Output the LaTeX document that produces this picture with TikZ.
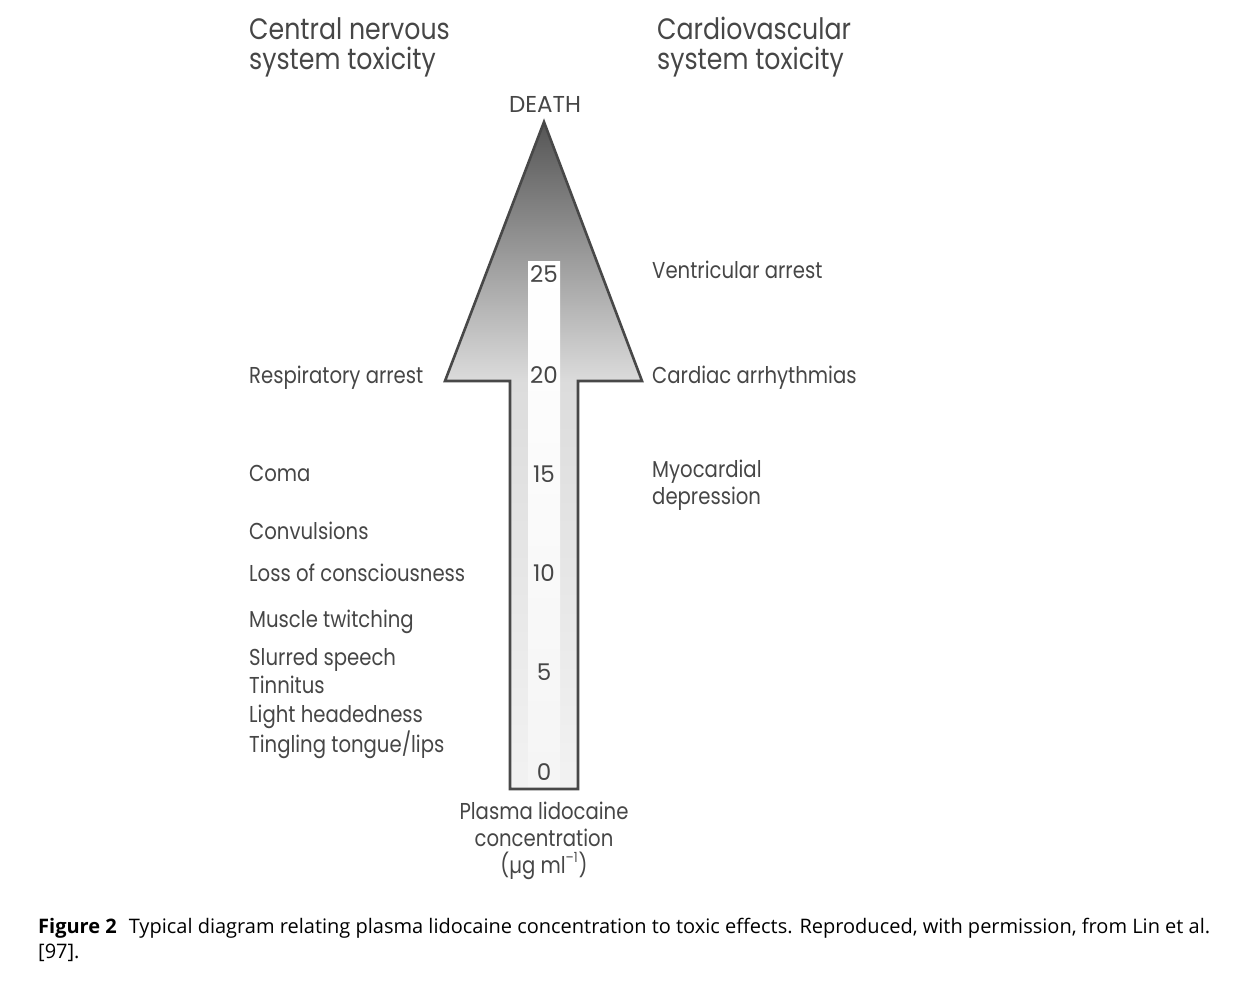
\documentclass[tikz,border=0pt]{standalone}
\usepackage{fontspec}
\setmainfont{Open Sans}
\newfontfamily\futfont[FakeStretch=0.855]{Poppins}
\newfontfamily\futwide{Poppins}
\usetikzlibrary{shadings}
\definecolor{txt}{HTML}{464646}
\definecolor{edge}{HTML}{484848}
\definecolor{g0}{HTML}{F2F2F2}
\definecolor{g1}{HTML}{DCDCDC}
\definecolor{g2}{HTML}{555555}
\pgfdeclareverticalshading{arrowshade}{100bp}{color(0bp)=(g0); color(25bp)=(g0); color(55.5bp)=(g1); color(75bp)=(g2); color(100bp)=(g2)}
\tikzset{
  lbl/.style={anchor=base west, inner sep=0pt, text=txt, font=\futfont\fontsize{23}{25}\selectfont},
  rlbl/.style={lbl, align=left, font=\futfont\fontsize{23}{27}\selectfont},
  title/.style={anchor=base west, inner sep=0pt, text=txt, align=left, font=\futfont\fontsize{29.5}{30.5}\selectfont},
  num/.style={anchor=base, inner sep=0pt, text=txt, font=\futwide\fontsize{23}{25}\selectfont},
  axislbl/.style={anchor=base, inner sep=0pt, text=txt, align=center, font=\futfont\fontsize{23}{27}\selectfont},
  caption/.style={anchor=base west, inner sep=0pt, text=black, align=left, font=\fontsize{20}{25}\selectfont},
}
\begin{document}
\begin{tikzpicture}[x=1pt,y=-1pt]
\useasboundingbox (0,0) rectangle (1240,1003);
% arrow
\coordinate (tip) at (544,122);
\shade[shading=arrowshade] (tip) -- (642,381) -- (578,381) -- (578,789) -- (510,789) -- (510,381) -- (445,381) -- cycle;
\shade[top color=white, bottom color=white!96!black] (528,262) rectangle (560,788);
\draw[edge, line width=2.6pt, line join=miter] (tip) -- (642,381) -- (578,381) -- (578,789) -- (510,789) -- (510,381) -- (445,381) -- cycle;
% titles
\node[title] (cns) at (249,70) {Central nervous\\system toxicity};
\node[title] (cvs) at (657,70) {Cardiovascular\\system toxicity};
\node[num] (death) at (545,113) {DEATH};
% numbers
\node[num] (n25) at (544,283) {25};
\node[num] (n20) at (544,383) {20};
\node[num] (n15) at (544,482) {15};
\node[num] (n10) at (544,581) {10};
\node[num] (n5) at (544,680) {5};
\node[num] (n0) at (544,780) {0};
% left labels
\node[lbl] (resp) at (249,383) {Respiratory arrest};
\node[lbl] (coma) at (249,481) {Coma};
\node[lbl] (conv) at (249,539) {Convulsions};
\node[lbl] (loss) at (249,581) {Loss of consciousness};
\node[lbl] (musc) at (249,627) {Muscle twitching};
\node[lbl] (slur) at (249,665) {Slurred speech};
\node[lbl] (tinn) at (249,693) {Tinnitus};
\node[lbl] (light) at (249,722) {Light headedness};
\node[lbl] (ting) at (249,752) {Tingling tongue/lips};
% right labels
\node[lbl] (vent) at (652,279) {Ventricular arrest};
\node[lbl] (card) at (652,383) {Cardiac arrhythmias};
\node[rlbl] (myo) at (652,504) {Myocardial\\depression};
% axis label
\node[axislbl] (plasma) at (544,873) {Plasma lidocaine\\concentration\\(µg ml\raisebox{0.45em}{\fontsize{14}{14}\selectfont –1}\kern1pt)};
% caption
\node[caption] (cap) at (38,958) {\textbf{Figure 2}\hspace{0.6em}Typical diagram relating plasma lidocaine concentration to toxic effects. Reproduced, with permission, from Lin et al.\\{}[97].};
\end{tikzpicture}
\end{document}
